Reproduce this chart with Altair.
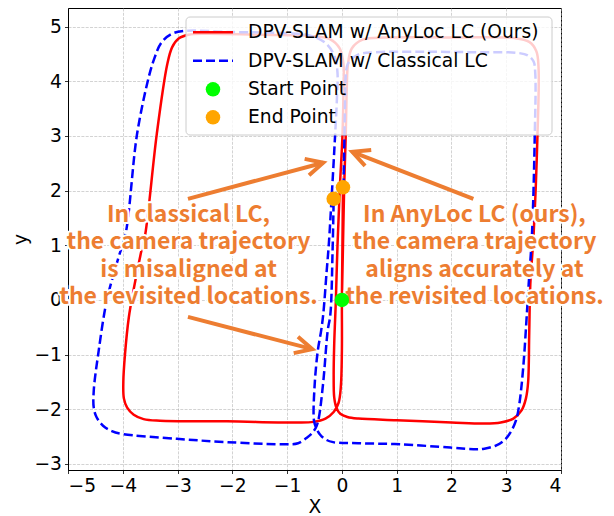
import math
import altair as alt
import pandas as pd

# ---------------- data ----------------
red_x = [0.00, 0.02, 0.04, 0.07, 0.09, 0.11, 0.18, 0.38, 0.80,
         2.00, 3.15, 3.42, 3.55, 3.59,
         3.57, 3.50, 3.44, 3.42, 3.40, 3.36, 3.28, 3.13, 2.90, 2.60,
         2.00, 1.00, 0.30, 0.10, -0.03, -0.10, -0.14, -0.15,
         -0.14, -0.11, -0.08, -0.04, 0.01, 0.03, 0.03, -0.04, -0.22, -0.60,
         -1.50, -2.50, -2.80, -2.98, -3.10, -3.19,
         -3.38, -3.59, -3.66, -3.80, -3.89, -3.96, -3.99, -3.98, -3.92, -3.80, -3.62, -3.32,
         -2.10, -0.88, -0.52, -0.30, -0.15, -0.06, -0.02, 0.00, 0.00, 0.01, 0.02]
red_y = [0.00, 1.00, 2.00, 3.00, 3.90, 4.30, 4.60, 4.76, 4.80,
         4.80, 4.79, 4.72, 4.55, 4.25,
         3.00, 1.20, 0.29, -0.60, -1.50, -1.80, -2.02, -2.17, -2.24, -2.26,
         -2.24, -2.20, -2.17, -2.14, -2.08, -1.97, -1.78, -1.40,
         -0.80, 0.00, 1.00, 2.00, 3.00, 3.90, 4.30, 4.60, 4.77, 4.83,
         4.85, 4.87, 4.85, 4.78, 4.62, 4.30,
         3.03, 1.20, 0.90, 0.20, -0.32, -1.00, -1.50, -1.80, -1.97, -2.10, -2.18, -2.21,
         -2.22, -2.24, -2.23, -2.17, -2.05, -1.88, -1.60, -0.93, 0.00, 1.00, 2.05]

blue_x = [0.03, 0.04, 0.05, 0.06, 0.07, 0.11, 0.28, 0.60,
          1.50, 2.50, 3.20, 3.40, 3.50, 3.53,
          3.52, 3.47, 3.41, 3.38, 3.31, 3.24, 3.18, 3.09, 2.98, 2.82, 2.60, 2.40,
          1.98, 1.06, 0.30, -0.16, -0.30, -0.40, -0.47, -0.51,
          -0.50, -0.44, -0.38, -0.34, -0.28, -0.24, -0.18, -0.13, -0.09, -0.08, -0.13, -0.30, -0.60, -1.00,
          -2.00, -2.89, -3.12, -3.30, -3.43, -3.53,
          -3.74, -3.95, -4.08, -4.29, -4.44, -4.53, -4.53, -4.48, -4.36, -4.20, -4.02,
          -3.01, -2.10, -1.00, -0.80, -0.64, -0.53, -0.46, -0.42,
          -0.34, -0.26, -0.21, -0.17, -0.15]
blue_y = [2.06, 2.60, 3.20, 3.80, 4.10, 4.32, 4.48, 4.53,
          4.54, 4.53, 4.52, 4.47, 4.36, 4.15,
          2.96, 1.20, 0.29, -0.20, -1.24, -1.90, -2.20, -2.40, -2.55, -2.66, -2.72, -2.73,
          -2.70, -2.64, -2.62, -2.60, -2.55, -2.46, -2.34, -2.20,
          -1.60, -0.93, -0.57, -0.26, 0.50, 1.00, 2.00, 2.90, 3.70, 4.15, 4.45, 4.70, 4.84, 4.88,
          4.90, 4.92, 4.86, 4.70, 4.40, 4.06,
          3.03, 1.20, 0.77, 0.00, -0.93, -1.66, -1.97, -2.14, -2.30, -2.40, -2.45,
          -2.54, -2.60, -2.64, -2.62, -2.52, -2.42, -2.30, -2.15,
          -1.50, -0.57, -0.26, 0.90, 1.85]

start_x = [0.0]
start_y = [0.0]
end_x = [0.02, -0.15]
end_y = [2.06, 1.85]

legend_labels = ["DPV-SLAM w/ AnyLoc LC (Ours)", "DPV-SLAM w/ Classical LC",
                 "Start Point", "End Point"]

note_x = [-2.80, 2.42]
note_y = [1.43, 1.43]
note_text = ["In classical LC,\nthe camera trajectory\nis misaligned at\nthe revisited locations.",
             "In AnyLoc LC (ours),\nthe camera trajectory\naligns accurately at\nthe revisited locations."]

arrow_tx = [-2.81, 2.40, -2.81]
arrow_ty = [1.85, 1.85, -0.31]
arrow_hx = [-0.34, 0.19, -0.54]
arrow_hy = [2.51, 2.71, -0.90]

x_ticks = list(range(-5, 5))
y_ticks = list(range(-3, 6))

# ---------------- layout ----------------
X_DOMAIN = [-5.0, 4.0]
Y_DOMAIN = [-3.11, 5.34]
W, H = 493, 462
ORANGE = "#ED7D31"

red_df = pd.DataFrame({"x": red_x, "y": red_y, "i": range(len(red_x))})
blue_df = pd.DataFrame({"x": blue_x, "y": blue_y, "i": range(len(blue_x))})
start_df = pd.DataFrame({"x": start_x, "y": start_y})
end_df = pd.DataFrame({"x": end_x, "y": end_y})
note_df = pd.DataFrame({"x": note_x, "y": note_y, "t": note_text})

kx = W / (X_DOMAIN[1] - X_DOMAIN[0])
ky = H / (Y_DOMAIN[1] - Y_DOMAIN[0])
arrow_df = pd.DataFrame({"x": arrow_tx, "y": arrow_ty, "x2": arrow_hx, "y2": arrow_hy})
arrow_df["ang"] = [
    math.degrees(math.atan2(-(hy - ty) * ky, (hx - tx) * kx)) % 360
    for tx, ty, hx, hy in zip(arrow_tx, arrow_ty, arrow_hx, arrow_hy)
]
arrow_head_df = pd.DataFrame({"x": arrow_hx, "y": arrow_hy, "ang": arrow_df["ang"]})

axis_common = dict(
    grid=True, gridColor="#b0b0b0", gridOpacity=0.7, gridWidth=0.8, gridDash=[3, 1.3],
    tickSize=3.5, tickColor="black", tickWidth=0.8,
    domainColor="black", domainWidth=1,
    labelFont="DejaVu Sans", labelFontSize=18.7, labelColor="black", labelPadding=3,
    titleFont="DejaVu Sans", titleFontSize=18.7, titleFontWeight="normal", titleColor="black",
)

X = alt.X("x:Q", scale=alt.Scale(domain=X_DOMAIN, nice=False, zero=False),
          axis=alt.Axis(values=x_ticks, titlePadding=2, **axis_common), title="X")
Y = alt.Y("y:Q", scale=alt.Scale(domain=Y_DOMAIN, nice=False, zero=False),
          axis=alt.Axis(values=y_ticks, titlePadding=3, **axis_common), title="y")

red_line = alt.Chart(red_df).mark_line(
    color="red", strokeWidth=2.5, interpolate="catmull-rom"
).encode(x=X, y=Y, order="i:Q")

blue_line = alt.Chart(blue_df).mark_line(
    color="blue", strokeWidth=2.5, strokeDash=[9, 4], interpolate="catmull-rom"
).encode(x=X, y=Y, order="i:Q")

start_pts = alt.Chart(start_df).mark_circle(size=210, color="#00ff00", opacity=1).encode(x=X, y=Y)
end_pts = alt.Chart(end_df).mark_circle(size=210, color="orange", opacity=1).encode(x=X, y=Y)

# ---- legend (drawn inside the plot, upper right) ----
one = pd.DataFrame({"a": [0]})
leg_rows = [24.3, 52.7, 81.3, 109.3]
leg_box = alt.Chart(one).mark_rect(
    fill="white", fillOpacity=0.8, stroke="#cccccc", strokeWidth=1, cornerRadius=4
).encode(x=alt.value(118), x2=alt.value(484), y=alt.value(9), y2=alt.value(127))
leg_red = alt.Chart(one).mark_rule(color="red", strokeWidth=2.5).encode(
    x=alt.value(125), x2=alt.value(165), y=alt.value(leg_rows[0]))
leg_blue = alt.Chart(one).mark_rule(color="blue", strokeWidth=2.5, strokeDash=[9, 4]).encode(
    x=alt.value(125), x2=alt.value(165), y=alt.value(leg_rows[1]))
leg_green = alt.Chart(one).mark_circle(size=210, color="#00ff00", opacity=1).encode(
    x=alt.value(145), y=alt.value(leg_rows[2]))
leg_orange = alt.Chart(one).mark_circle(size=210, color="orange", opacity=1).encode(
    x=alt.value(145), y=alt.value(leg_rows[3]))
leg_texts = [
    alt.Chart(one).mark_text(align="left", baseline="middle", font="DejaVu Sans",
                             fontSize=18.7, color="black").encode(
        x=alt.value(180), y=alt.value(leg_rows[k]), text=alt.value(lab))
    for k, lab in enumerate(legend_labels)
]

# ---- annotations ----
text_kw = dict(font="Noto Sans CJK JP", fontWeight="bold", fontSize=23, lineHeight=27.5,
               lineBreak="\n", align="center", baseline="alphabetic")
note_halo = alt.Chart(note_df).mark_text(
    fill="white", stroke="white", strokeWidth=4, strokeJoin="round", **text_kw
).encode(x=X, y=Y, text="t:N")
note_main = alt.Chart(note_df).mark_text(fill=ORANGE, **text_kw).encode(x=X, y=Y, text="t:N")

CHEVRON = "M -1 -0.5 L 0 0 L -1 0.5"
arrow_shaft = alt.Chart(arrow_df).mark_rule(color=ORANGE, strokeWidth=4).encode(
    x=X, y=Y, x2="x2:Q", y2="y2:Q")
arrow_head = alt.Chart(arrow_head_df).mark_point(
    shape=CHEVRON, filled=False, stroke=ORANGE, strokeWidth=4, size=1156,
    strokeJoin="miter", strokeCap="butt", opacity=1
).encode(x=X, y=Y, angle=alt.Angle("ang:Q", scale=None))

chart = alt.layer(
    red_line, blue_line,
    leg_box, leg_red, leg_blue, leg_green, leg_orange, *leg_texts,
    note_halo, note_main, start_pts, end_pts, arrow_shaft, arrow_head,
).properties(
    width=W, height=H,
    autosize=alt.AutoSizeParams(type="none"),
    padding={"left": 60, "top": 0, "right": 45, "bottom": 50},
).configure_view(stroke="black", strokeWidth=1)

chart.save("out.html", embed_options={"renderer": "svg", "actions": False})
